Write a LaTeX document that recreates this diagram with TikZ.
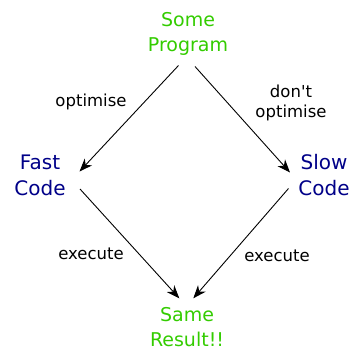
\documentclass[tikz,border=0pt]{standalone}
\usepackage{fontspec}
\setmainfont{DejaVu Sans}
\usetikzlibrary{arrows.meta}
\definecolor{progreen}{RGB}{51,204,0}
\definecolor{codeblue}{RGB}{0,0,136}
\begin{document}
\begin{tikzpicture}[x=1bp,y=-1bp,
  term/.style={inner sep=0pt,align=center,anchor=base,
    font=\fontsize{19bp}{25bp}\selectfont},
  greenterm/.style={term,text=progreen},
  blueterm/.style={term,text=codeblue,font=\fontsize{20bp}{25.5bp}\selectfont},
  edgelabel/.style={inner sep=0pt,align=center,anchor=base,
    font=\fontsize{16.5bp}{20bp}\selectfont},
  flow/.style={line width=0.9bp,-{Stealth[length=13bp,width=10bp,inset=4bp]}}]
  \useasboundingbox (0,0) rectangle (356,350);
  % four program states (base = baseline of the last line)
  \node[greenterm] (prog) at (188,51) {Some\\Program};
  \node[blueterm]  (fast) at (40,195) {Fast\\Code};
  \node[blueterm]  (slow) at (324,195) {Slow\\Code};
  \node[greenterm] (same) at (187,346) {Same\\Result!!};
  % transitions
  \draw[flow] ([shift={(-9.5,14.5)}]prog.base) -- ([shift={(39.5,-23.5)}]fast.base);
  \draw[flow] ([shift={(7,15.5)}]prog.base) -- ([shift={(-34,-22.5)}]slow.base);
  \draw[flow] ([shift={(40,-6)}]fast.base) -- ([shift={(-7.7,-47.7)}]same.base);
  \draw[flow] ([shift={(-35.5,-6.5)}]slow.base) -- ([shift={(6.3,-47.7)}]same.base);
  % transition labels
  \node[edgelabel] (lopt)  at (91,106) {optimise};
  \node[edgelabel] (lnopt) at (291,117) {don\textquotesingle t\\optimise};
  \node[edgelabel] (lex1)  at (91,259) {execute};
  \node[edgelabel] (lex2)  at (277,261) {execute};
\end{tikzpicture}
\end{document}
